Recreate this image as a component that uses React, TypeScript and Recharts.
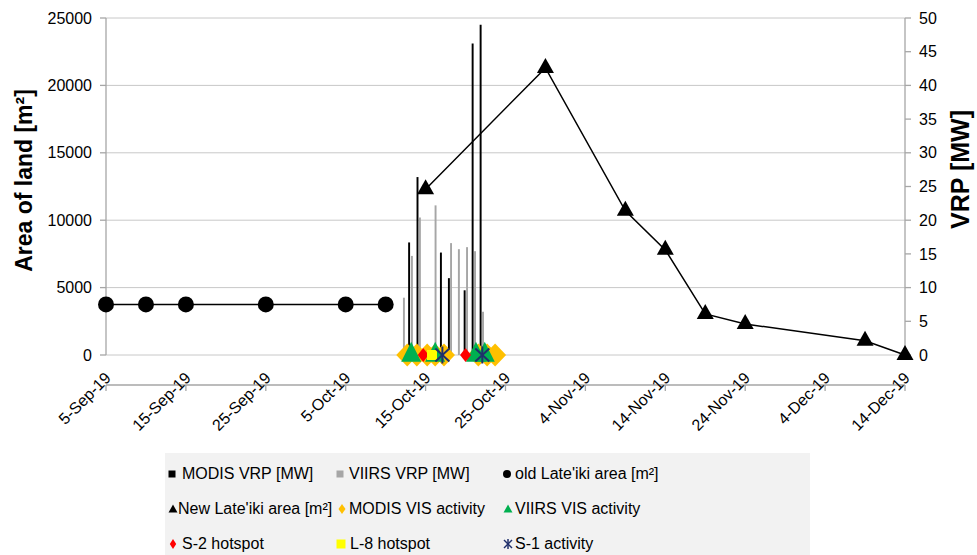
import React from 'react';
import { ComposedChart, Bar, Cell, Scatter, XAxis, YAxis, CartesianGrid, Label } from 'recharts';

// x values are days since 5-Sep-2019
const xTicks = [0, 10, 20, 30, 40, 50, 60, 70, 80, 90, 100];
const xTickLabels = ['5-Sep-19', '15-Sep-19', '25-Sep-19', '5-Oct-19', '15-Oct-19', '25-Oct-19', '4-Nov-19', '14-Nov-19', '24-Nov-19', '4-Dec-19', '14-Dec-19'];
const leftTicks = [0, 5000, 10000, 15000, 20000, 25000];
const rightTicks = [0, 5, 10, 15, 20, 25, 30, 35, 40, 45, 50];

const modisVrpDays = [37.95, 39.0, 41.93, 42.93, 44.9, 45.9, 46.9];
const modisVrpValues = [16.7, 26.4, 15.2, 11.4, 9.6, 46.2, 49.0];
const viirsVrpDays = [37.3, 38.3, 39.3, 41.26, 43.2, 44.18, 45.2, 46.2, 47.2];
const viirsVrpValues = [8.5, 14.7, 20.4, 22.2, 16.6, 15.7, 16.0, 15.4, 6.4];

const oldAreaDays = [0, 5, 10, 20, 30, 35];
const oldAreaValues = [3750, 3750, 3750, 3750, 3750, 3750];
const newAreaDays = [40, 55, 65, 70, 75, 80, 95, 100];
const newAreaValues = [12300, 21300, 10700, 7800, 3050, 2300, 1050, 0];

const modisVisDays = [37.7, 38.9, 40.2, 41.2, 42.3, 46.6, 47.7, 48.7];
const viirsVisDays = [38.2, 41.2, 46.3, 47.4];
const s2HotspotDays = [39.7, 45.0];
const l8HotspotDays = [40.8];
const s1ActivityDays = [42.1, 47.1];

const barRows = [
  ...modisVrpDays.map((t, i) => ({ t, vrp: modisVrpValues[i], sensor: 'MODIS' })),
  ...viirsVrpDays.map((t, i) => ({ t, vrp: viirsVrpValues[i], sensor: 'VIIRS' })),
].sort((a, b) => a.t - b.t);

const toPts = (days: number[], vals?: number[]) => days.map((t, i) => ({ t, v: vals ? vals[i] : 0 }));
const oldArea = toPts(oldAreaDays, oldAreaValues);
const newArea = toPts(newAreaDays, newAreaValues);
const modisVis = toPts(modisVisDays);
const viirsVis = toPts(viirsVisDays);
const s2Hot = toPts(s2HotspotDays);
const l8Hot = toPts(l8HotspotDays);
const s1Act = toPts(s1ActivityDays);

const FONT = '"Liberation Sans", Arial, Helvetica, sans-serif';
const AXIS_GRAY = '#a6a6a6';
const GRID_GRAY = '#c8c8c8';
const ORANGE = '#ffc000';
const GREEN = '#00b050';
const RED = '#ff0000';
const YELLOW = '#ffff00';
const NAVY = '#1f2f6b';

const circleShape = (p: any) => <circle cx={p.cx} cy={p.cy} r={8} fill="#000" />;
const triShape = (w: number, h: number, fill: string) => (p: any) => (
  <polygon points={`${p.cx},${p.cy - (2 * h) / 3} ${p.cx + w / 2},${p.cy + h / 3} ${p.cx - w / 2},${p.cy + h / 3}`} fill={fill} />
);
const diamondShape = (w: number, h: number, fill: string) => (p: any) => (
  <polygon points={`${p.cx},${p.cy - h / 2} ${p.cx + w / 2},${p.cy} ${p.cx},${p.cy + h / 2} ${p.cx - w / 2},${p.cy}`} fill={fill} />
);
const squareShape = (s: number, fill: string) => (p: any) => (
  <rect x={p.cx - s / 2} y={p.cy - s / 2} width={s} height={s} fill={fill} />
);
const asteriskShape = (w: number, h: number) => (p: any) => (
  <g stroke={NAVY} strokeWidth={2}>
    <line x1={p.cx} y1={p.cy - h / 2} x2={p.cx} y2={p.cy + h / 2} />
    <line x1={p.cx - w / 2} y1={p.cy - h / 2.6} x2={p.cx + w / 2} y2={p.cy + h / 2.6} />
    <line x1={p.cx - w / 2} y1={p.cy + h / 2.6} x2={p.cx + w / 2} y2={p.cy - h / 2.6} />
  </g>
);

const XTick = (props: any) => {
  const { x, y, payload } = props;
  const idx = xTicks.indexOf(payload.value);
  const ex = x + 2;
  const ey = y - 18;
  return (
    <text x={ex} y={ey} transform={`rotate(-45 ${ex} ${ey})`} textAnchor="end" dominantBaseline="central" fontSize={16} fill="#000" fontFamily={FONT}>
      {idx >= 0 ? xTickLabels[idx] : ''}
    </text>
  );
};

const LeftTitle = (props: any) => {
  const { x, y, height } = props.viewBox;
  const cx = x + 18;
  const cy = y + height / 2 - 6;
  return (
    <text x={cx} y={cy} transform={`rotate(-90 ${cx} ${cy})`} textAnchor="middle" dominantBaseline="central" fontSize={23} fontWeight="bold" fill="#000" fontFamily={FONT}>
      Area of land [m²]
    </text>
  );
};

const RightTitle = (props: any) => {
  const { x, y, height } = props.viewBox;
  const cx = x + 55;
  const cy = y + height / 2 - 17;
  return (
    <text x={cx} y={cy} transform={`rotate(-90 ${cx} ${cy})`} textAnchor="middle" dominantBaseline="central" fontSize={25} fontWeight="bold" fill="#000" fontFamily={FONT}>
      VRP [MW]
    </text>
  );
};

const LegendMarker = ({ kind }: { kind: string }) => {
  const s = 12;
  const c = 6;
  let el: any = null;
  switch (kind) {
    case 'modisBar': el = <rect x={c - 3.5} y={c - 3.5} width={7} height={7} fill="#000" />; break;
    case 'viirsBar': el = <rect x={c - 3.5} y={c - 3.5} width={7} height={7} fill={AXIS_GRAY} />; break;
    case 'old': el = <circle cx={c} cy={c} r={4} fill="#000" />; break;
    case 'new': el = <polygon points={`${c},${c - 4.5} ${c + 4.5},${c + 3.5} ${c - 4.5},${c + 3.5}`} fill="#000" />; break;
    case 'modisVis': el = <polygon points={`${c},${c - 5} ${c + 3.5},${c} ${c},${c + 5} ${c - 3.5},${c}`} fill={ORANGE} />; break;
    case 'viirsVis': el = <polygon points={`${c},${c - 4.5} ${c + 4.5},${c + 3.5} ${c - 4.5},${c + 3.5}`} fill={GREEN} />; break;
    case 's2': el = <polygon points={`${c},${c - 5} ${c + 3.2},${c} ${c},${c + 5} ${c - 3.2},${c}`} fill={RED} />; break;
    case 'l8': el = <rect x={c - 4.5} y={c - 4.5} width={9} height={9} fill={YELLOW} />; break;
    case 's1': el = (
      <g stroke={NAVY} strokeWidth={1.5}>
        <line x1={c} y1={c - 5} x2={c} y2={c + 5} />
        <line x1={c - 4} y1={c - 4} x2={c + 4} y2={c + 4} />
        <line x1={c - 4} y1={c + 4} x2={c + 4} y2={c - 4} />
      </g>
    ); break;
  }
  return <svg width={s} height={s} style={{ display: 'block' }}>{el}</svg>;
};

const legendItems = [
  { kind: 'modisBar', label: 'MODIS VRP [MW]', mx: 7, tx: 17, row: 0 },
  { kind: 'viirsBar', label: 'VIIRS VRP [MW]', mx: 175, tx: 184, row: 0 },
  { kind: 'old', label: "old Late'iki area [m²]", mx: 342, tx: 350, row: 0 },
  { kind: 'new', label: "New Late'iki area [m²]", mx: 8, tx: 13, row: 1 },
  { kind: 'modisVis', label: 'MODIS VIS activity', mx: 177, tx: 184, row: 1 },
  { kind: 'viirsVis', label: 'VIIRS VIS activity', mx: 343, tx: 350, row: 1 },
  { kind: 's2', label: 'S-2 hotspot', mx: 8, tx: 17, row: 2 },
  { kind: 'l8', label: 'L-8 hotspot', mx: 176, tx: 185, row: 2 },
  { kind: 's1', label: 'S-1 activity', mx: 343, tx: 350, row: 2 },
];
const legendRowY = [20.5, 55.5, 90.5];

export default function App() {
  return (
    <div style={{ position: 'absolute', left: 0, top: 0, width: 977, height: 555, background: '#fff', fontFamily: FONT, overflow: 'hidden' }}>
      <ComposedChart width={977} height={555} data={barRows} margin={{ top: 18, right: 2, bottom: 130, left: 6 }}>
        <CartesianGrid yAxisId="left" xAxisId="x" vertical={false} stroke={GRID_GRAY} strokeWidth={1} />
        <XAxis
          xAxisId="x"
          dataKey="t"
          type="number"
          domain={[0, 100]}
          ticks={xTicks}
          interval={0}
          height={70}
          tick={<XTick />}
          tickSize={6}
          tickMargin={2}
          axisLine={{ stroke: AXIS_GRAY, strokeWidth: 1.3 }}
          tickLine={{ stroke: AXIS_GRAY, strokeWidth: 1.3 }}
        />
        <XAxis xAxisId="bars" dataKey="t" type="number" domain={[0, 100]} hide />
        <YAxis
          yAxisId="left"
          type="number"
          domain={[0, 25000]}
          ticks={leftTicks}
          interval={0}
          width={100}
          tickSize={6}
          tickMargin={8}
          tick={{ fontSize: 16, fill: '#000', fontFamily: FONT }}
          axisLine={{ stroke: AXIS_GRAY, strokeWidth: 1.3 }}
          tickLine={{ stroke: AXIS_GRAY, strokeWidth: 1.3 }}
        >
          <Label content={<LeftTitle />} />
        </YAxis>
        <YAxis
          yAxisId="right"
          orientation="right"
          type="number"
          domain={[0, 50]}
          ticks={rightTicks}
          interval={0}
          width={70}
          tickSize={6}
          tickMargin={8}
          tick={{ fontSize: 16, fill: '#000', fontFamily: FONT }}
          axisLine={{ stroke: AXIS_GRAY, strokeWidth: 1.3 }}
          tickLine={{ stroke: AXIS_GRAY, strokeWidth: 1.3 }}
        >
          <Label content={<RightTitle />} />
        </YAxis>
        <Bar dataKey="vrp" xAxisId="bars" yAxisId="right" barSize={3} isAnimationActive={false}>
          {barRows.map((r, i) => (
            <Cell key={i} fill={r.sensor === 'MODIS' ? '#000' : AXIS_GRAY} />
          ))}
        </Bar>
        <Scatter data={oldArea} dataKey="v" xAxisId="x" yAxisId="left" line={{ stroke: '#000', strokeWidth: 1.5 }} lineType="joint" shape={circleShape} isAnimationActive={false} />
        <Scatter data={newArea} dataKey="v" xAxisId="x" yAxisId="left" line={{ stroke: '#000', strokeWidth: 1.5 }} lineType="joint" shape={triShape(17, 15, '#000')} isAnimationActive={false} />
        <Scatter data={modisVis} dataKey="v" xAxisId="x" yAxisId="left" shape={diamondShape(22, 23, ORANGE)} isAnimationActive={false} />
        <Scatter data={viirsVis} dataKey="v" xAxisId="x" yAxisId="left" shape={triShape(20, 20, GREEN)} isAnimationActive={false} />
        <Scatter data={s2Hot} dataKey="v" xAxisId="x" yAxisId="left" shape={diamondShape(11, 14, RED)} isAnimationActive={false} />
        <Scatter data={l8Hot} dataKey="v" xAxisId="x" yAxisId="left" shape={squareShape(10, YELLOW)} isAnimationActive={false} />
        <Scatter data={s1Act} dataKey="v" xAxisId="x" yAxisId="left" shape={asteriskShape(14, 17)} isAnimationActive={false} />
      </ComposedChart>
      <div style={{ position: 'absolute', left: 165, top: 453, width: 645, height: 102, background: '#f2f2f2' }}>
        {legendItems.map((it, i) => (
          <React.Fragment key={i}>
            <div style={{ position: 'absolute', left: it.mx - 6, top: legendRowY[it.row] - 6 }}>
              <LegendMarker kind={it.kind} />
            </div>
            <div style={{ position: 'absolute', left: it.tx, top: legendRowY[it.row] - 10, fontSize: 16, lineHeight: '20px', color: '#000', whiteSpace: 'nowrap' }}>
              {it.label}
            </div>
          </React.Fragment>
        ))}
      </div>
    </div>
  );
}
